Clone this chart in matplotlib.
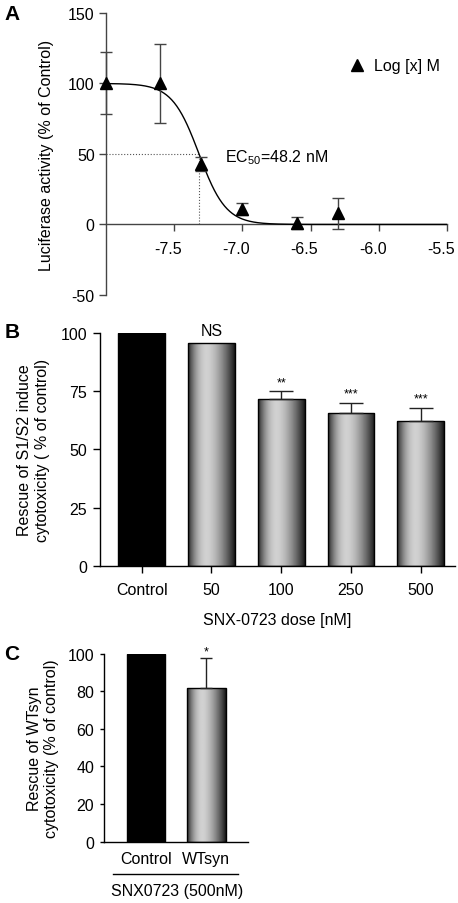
import numpy as np
import matplotlib
matplotlib.use("Agg")
import matplotlib.pyplot as plt
import matplotlib.transforms as mtransforms
from matplotlib.lines import Line2D

# ---- panel A: dose response ----
A_LOGX = [-8.0, -7.6, -7.3, -7.0, -6.6, -6.3]
A_MEAN = [100, 100, 43, 11, 1, 8]
A_ERR = [22, 28, 5, 4, 4, 11]
FIT_TOP, FIT_BOTTOM, FIT_LOGEC50, FIT_HILL = 100.0, 0.0, -7.317, 4.4
A_XTICKS = [-7.5, -7.0, -6.5, -6.0, -5.5]
A_YTICKS = [-50, 0, 50, 100, 150]

# ---- panel B: dose rescue ----
B_CATS = ["Control", "50", "100", "250", "500"]
B_VALS = [100, 95.7, 71.6, 65.6, 62.0]
B_ERR = [0, 0, 3.3, 4.3, 5.8]
B_SIG = ["", "NS", "**", "***", "***"]
B_YTICKS = [0, 25, 50, 75, 100]

# ---- panel C: WTsyn ----
C_CATS = ["Control", "WTsyn"]
C_VALS = [100, 81.6]
C_ERR = [0, 16]
C_SIG = ["", "*"]
C_YTICKS = [0, 20, 40, 60, 80, 100]

plt.rcParams["font.family"] = ["Liberation Sans", "DejaVu Sans"]
plt.rcParams["font.size"] = 11.5
plt.rcParams["axes.unicode_minus"] = False
plt.rcParams["axes.spines.top"] = False
plt.rcParams["axes.spines.right"] = False
plt.rcParams["axes.linewidth"] = 1.0

fig = plt.figure(figsize=(4.58, 9.04), dpi=100)


def gradient_bar(ax, x, h, width):
    t = np.linspace(0, 1, 64)
    prof = np.where(t < 0.4,
                    0.82 - 0.65 * ((0.4 - t) / 0.4) ** 2,
                    0.82 - 0.72 * ((t - 0.4) / 0.6) ** 1.6)
    ax.imshow(prof[None, :], cmap="gray", vmin=0, vmax=1, aspect="auto",
              extent=(x - width / 2, x + width / 2, 0, h), zorder=2,
              interpolation="bilinear")
    ax.bar(x, h, width, facecolor="none", edgecolor="black", linewidth=1.0, zorder=3)


# ---------------- A ----------------
axA = fig.add_axes([0.231, 0.6726, 0.745, 0.312])
xs = np.linspace(-8.0, -5.5, 400)
fit = FIT_BOTTOM + (FIT_TOP - FIT_BOTTOM) / (1 + 10 ** ((xs - FIT_LOGEC50) * FIT_HILL))
axA.plot(xs, fit, color="black", linewidth=1.0, zorder=3)
axA.errorbar(A_LOGX, A_MEAN, yerr=A_ERR, fmt="^", color="black", ecolor="#444444",
             elinewidth=1.0, capsize=4.2, capthick=1.0, markersize=8, zorder=4,
             clip_on=False)
half = (FIT_TOP + FIT_BOTTOM) / 2
axA.plot([-8.0, FIT_LOGEC50], [half, half], color="#555555", linestyle=":", linewidth=0.8)
axA.plot([FIT_LOGEC50, FIT_LOGEC50], [0, half], color="#555555", linestyle=":", linewidth=0.8)
axA.text(-7.125, 48, "EC$_\\mathregular{50}$=48.2 nM", fontsize=11.5, va="center", ha="left")
axA.set_xlim(-8.0, -5.5)
axA.set_ylim(-50, 150)
axA.spines["bottom"].set_position(("data", 0))
axA.spines["left"].set_color("#444444")
axA.spines["bottom"].set_color("#444444")
axA.set_xticks(A_XTICKS)
axA.set_xticklabels([f"{v:.1f}" for v in A_XTICKS])
axA.set_yticks(A_YTICKS)
axA.tick_params(direction="out", length=5, width=1.0, color="#444444", pad=3)
axA.tick_params(axis="x", pad=7)
shift = mtransforms.ScaledTranslation(-6 / 100, 0, fig.dpi_scale_trans)
for lab in axA.get_xticklabels():
    lab.set_transform(lab.get_transform() + shift)
axA.set_ylabel("Luciferase activity (% of Control)", labelpad=10)
axA.text(0.5, -0.225, "log [x ] M", transform=axA.transAxes, ha="center", va="center")
handle = Line2D([], [], marker="^", color="black", linestyle="none", markersize=8)
axA.legend([handle], ["Log [x] M"], loc="center left", bbox_to_anchor=(0.66, 0.812),
           frameon=False, handletextpad=0.3, handlelength=1.5)
fig.text(0.01, 0.984, "A", fontsize=15, fontweight="bold", va="center")

# ---------------- B ----------------
axB = fig.add_axes([0.218, 0.3731, 0.775, 0.2574])
bw = 0.67
for i, (v, e) in enumerate(zip(B_VALS, B_ERR)):
    if i == 0:
        axB.bar(i, v, bw, color="black", edgecolor="black", linewidth=1.0, zorder=3)
    else:
        gradient_bar(axB, i, v, bw)
    if e > 0:
        axB.errorbar(i, v, yerr=[[0], [e]], fmt="none", ecolor="#222222",
                     elinewidth=1.0, capsize=8.3, capthick=1.0, zorder=4)
for i, s in enumerate(B_SIG):
    if not s:
        continue
    if s == "NS":
        axB.text(i, B_VALS[i] + B_ERR[i] + 2.0, s, ha="center", va="bottom")
    else:
        axB.text(i, B_VALS[i] + B_ERR[i] + 1.5, s, ha="center", va="bottom", fontsize=9)
axB.set_xlim(-0.6, 4.49)
axB.set_ylim(0, 100)
axB.set_xticks(range(len(B_CATS)))
axB.set_xticklabels(B_CATS)
axB.set_yticks(B_YTICKS)
axB.tick_params(direction="out", length=5, width=1.0, pad=4)
axB.tick_params(axis="x", pad=7)
axB.set_ylabel("Rescue of S1/S2 induce\ncytotoxicity ( % of control)", labelpad=8)
axB.text(0.5, -0.23, "SNX-0723 dose [nM]", transform=axB.transAxes, ha="center", va="center")
fig.text(0.01, 0.632, "B", fontsize=15, fontweight="bold", va="center")

# ---------------- C ----------------
axC = fig.add_axes([0.227, 0.0678, 0.314, 0.208])
bw = 0.64
for i, (v, e) in enumerate(zip(C_VALS, C_ERR)):
    if i == 0:
        axC.bar(i, v, bw, color="black", edgecolor="black", linewidth=1.0, zorder=3)
    else:
        gradient_bar(axC, i, v, bw)
    if e > 0:
        axC.errorbar(i, v, yerr=[[0], [e]], fmt="none", ecolor="#222222",
                     elinewidth=1.0, capsize=4.2, capthick=1.0, zorder=4)
for i, s in enumerate(C_SIG):
    if s:
        axC.text(i, C_VALS[i] + C_ERR[i] + 0.3, s, ha="center", va="bottom", fontsize=9)
axC.set_xlim(-0.7, 1.69)
axC.set_ylim(0, 100)
axC.set_xticks(range(len(C_CATS)))
axC.set_xticklabels(C_CATS)
axC.set_yticks(C_YTICKS)
axC.tick_params(axis="y", direction="out", length=3, width=1.0, pad=4)
axC.tick_params(axis="x", length=0, pad=7)
axC.set_ylabel("Rescue of WTsyn\ncytotoxicity (% of control)", labelpad=6)
axC.plot([-0.55, 1.53], [-0.17, -0.17], transform=axC.get_xaxis_transform(),
         color="black", linewidth=1.0, clip_on=False)
axC.text(0.51, -0.26, "SNX0723 (500nM)", transform=axC.get_xaxis_transform(),
         ha="center", va="center")
fig.text(0.01, 0.2755, "C", fontsize=15, fontweight="bold", va="center")

fig.savefig("out.png", dpi=100)
